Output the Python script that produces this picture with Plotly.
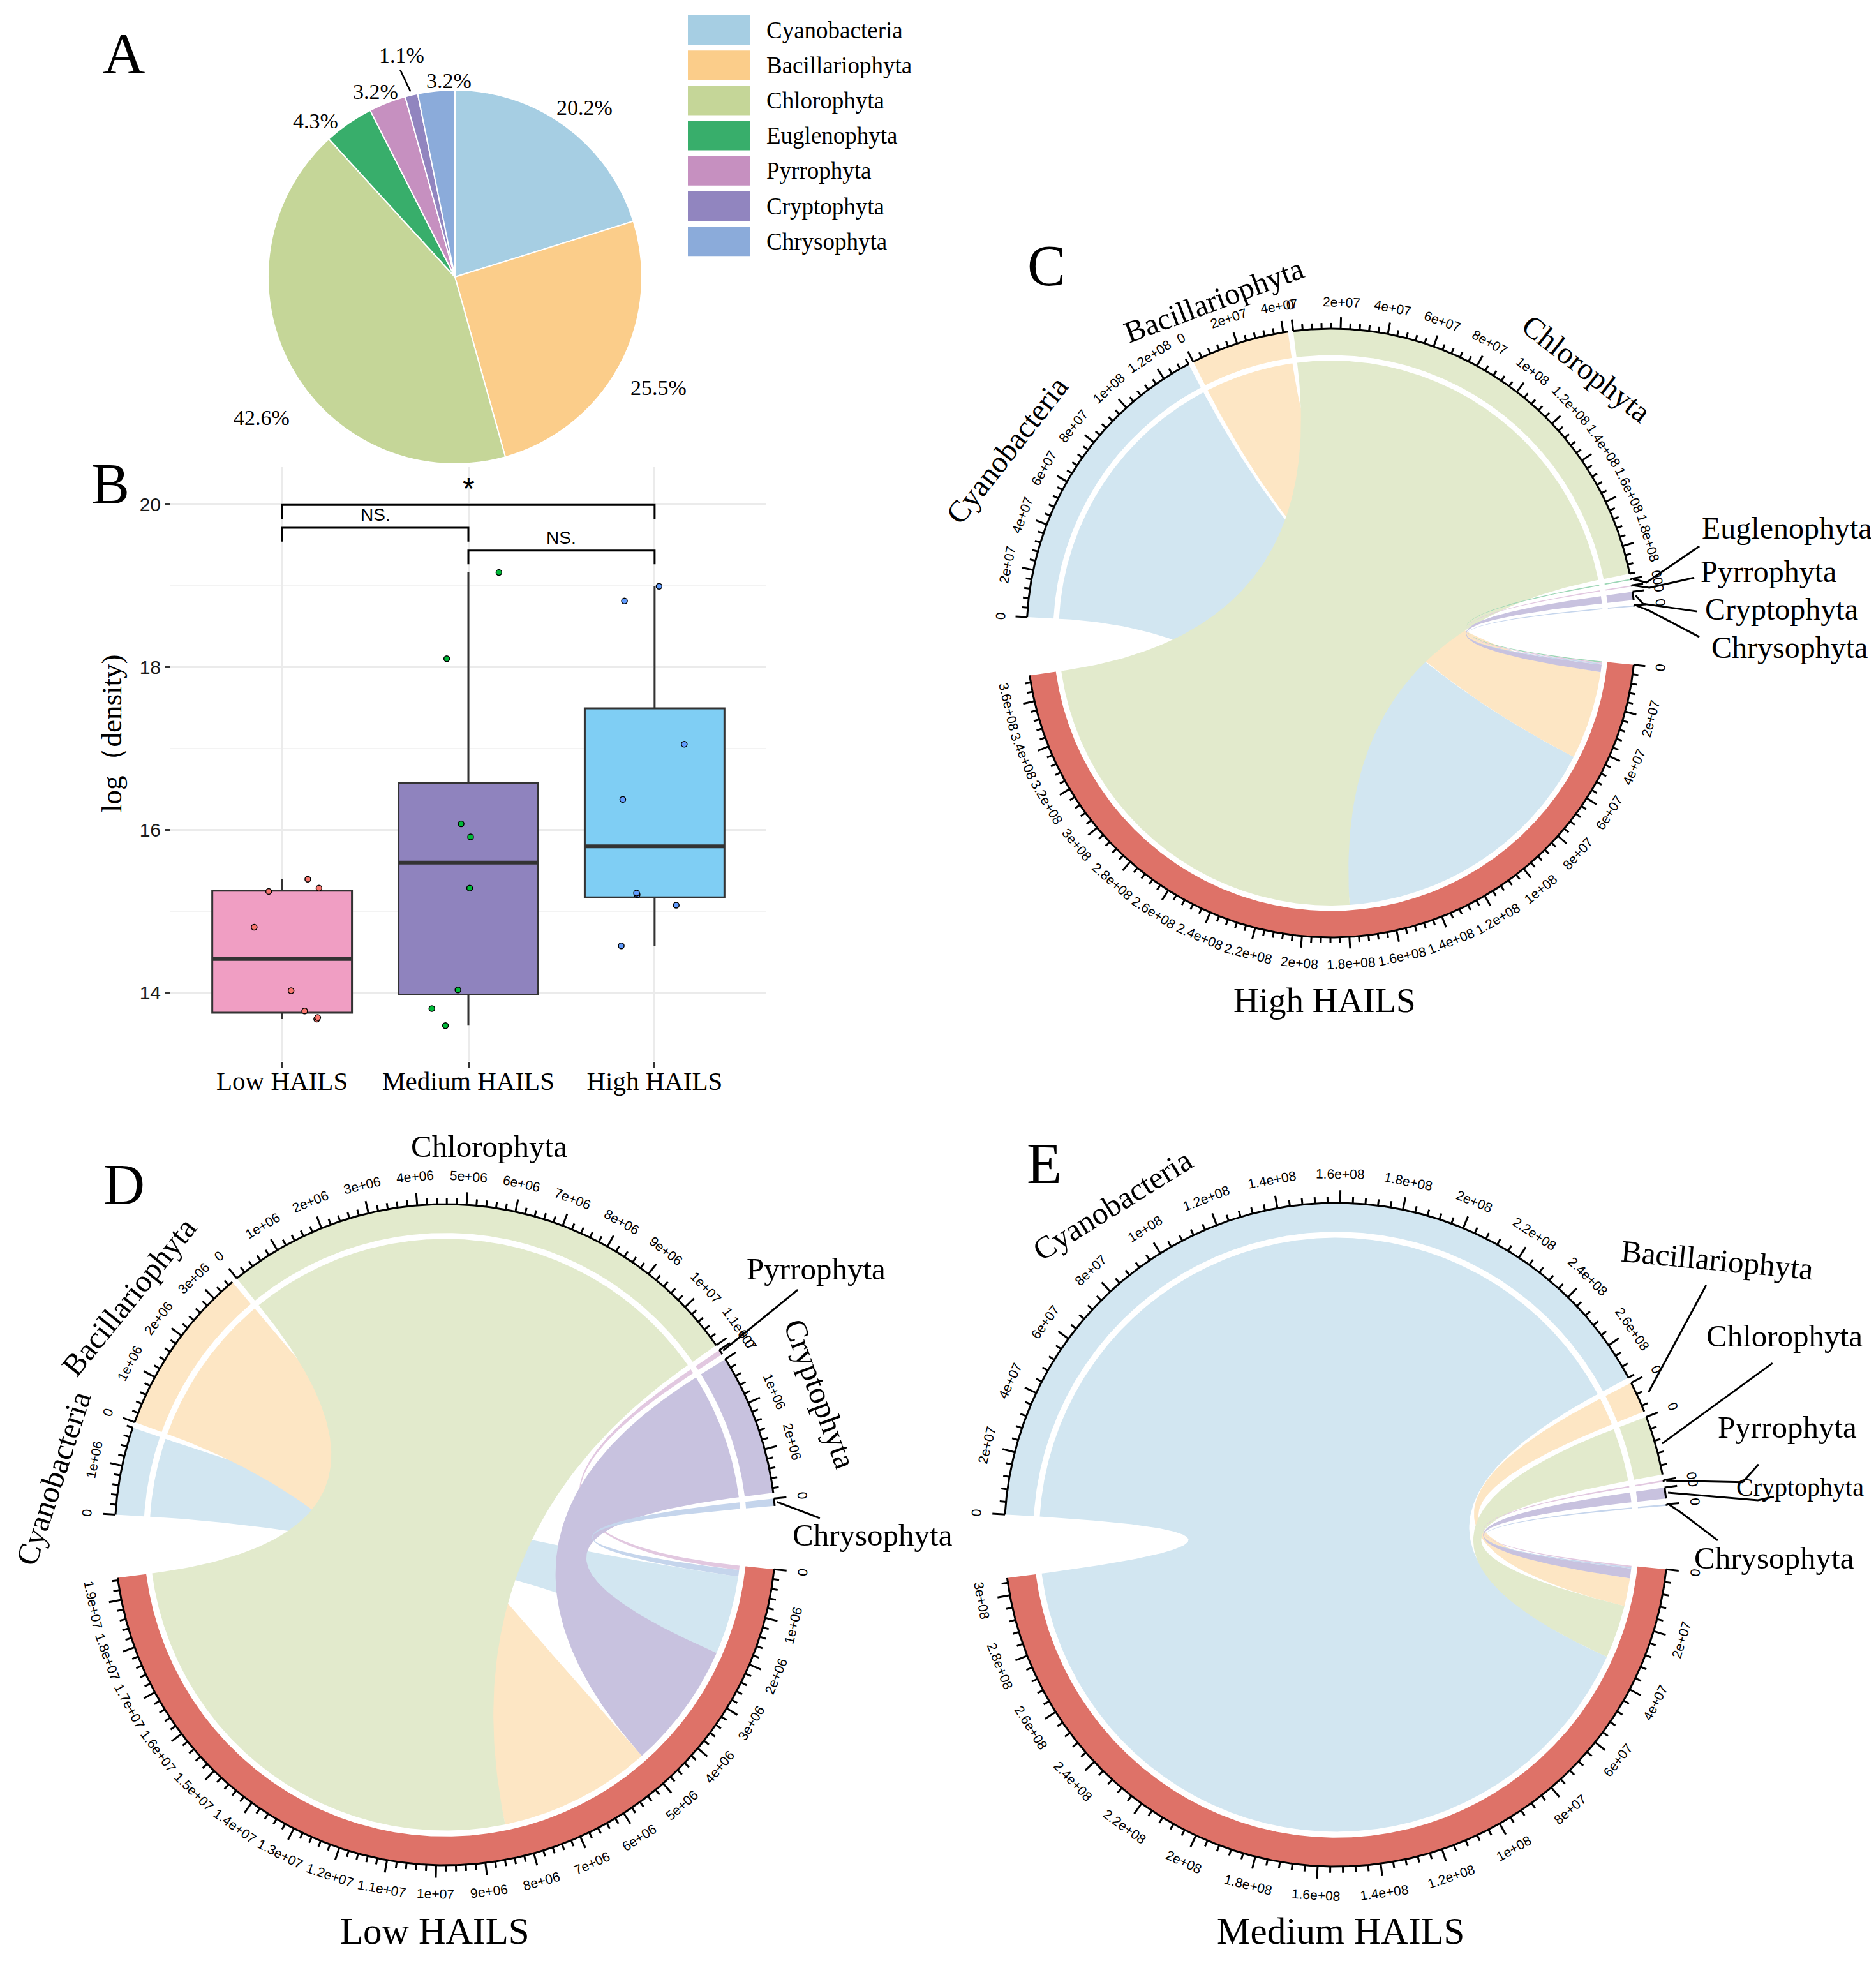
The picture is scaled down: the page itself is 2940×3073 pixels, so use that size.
import numpy as np
import plotly.graph_objects as go

W, H = 2940, 3073

# ---------------- data ----------------
phyla = ["Cyanobacteria", "Bacillariophyta", "Chlorophyta", "Euglenophyta",
         "Pyrrophyta", "Cryptophyta", "Chrysophyta"]
pie_percent = [20.2, 25.5, 42.6, 4.3, 3.2, 1.1, 3.2]

hails_groups = ["Low HAILS", "Medium HAILS", "High HAILS"]
log_density_low = [13.67, 13.69, 13.77, 14.02, 14.80, 15.24, 15.28, 15.39]
log_density_medium = [13.59, 13.80, 14.03, 15.28, 15.91, 16.07, 18.10, 19.16]
log_density_high = [14.57, 15.07, 15.20, 15.22, 16.37, 17.05, 18.81, 18.99]
jitter_low = [0.186, 0.191, 0.121, 0.048, -0.150, -0.072, 0.198, 0.138]
jitter_medium = [-0.123, -0.196, -0.056, 0.007, 0.012, -0.039, -0.116, 0.164]
jitter_high = [-0.179, 0.116, -0.094, -0.097, -0.171, 0.159, -0.162, 0.024]
comparisons = [("Low HAILS", "High HAILS", "*"),
               ("Low HAILS", "Medium HAILS", "NS."),
               ("Medium HAILS", "High HAILS", "NS.")]

# density of each phylum flowing into each HAILS group (chord diagrams)
flow_high = [1.32e8, 4.2e7, 1.92e8, 5e5, 5e5, 3.5e6, 5e5]
flow_low = [1.8e6, 3.5e6, 1.1e7, 0, 1e5, 2.9e6, 1.5e5]
flow_medium = [2.72e8, 1.0e7, 1.9e7, 0, 5e5, 3.5e6, 5e5]

# ---------------- styles ----------------
phyla_colors = ["#A6CEE3", "#FBCD8A", "#C5D698", "#38AE6B", "#C690C0", "#9185BF", "#8BABDA"]
box_fill = ["#F09EC3", "#8F83BE", "#7FCEF4"]
point_color = ["#F8766D", "#00BA38", "#619CFF"]
group_red = "#DE7268"
SERIF = "Liberation Serif"
SANS = "Liberation Sans"


def pale(hx, a=0.5):
    r, g, b = int(hx[1:3], 16), int(hx[3:5], 16), int(hx[5:7], 16)
    r, g, b = [int(round(c * a + 255 * (1 - a))) for c in (r, g, b)]
    return f"#{r:02X}{g:02X}{b:02X}"


fig = go.Figure()
annots = []
shapes = []


def text(x, y, s, size, family=SERIF, angle=0, xanchor="center", yanchor="middle", color="black"):
    annots.append(dict(x=x, y=y, xref="x2", yref="y2", text=s, showarrow=False,
                       font=dict(family=family, size=size, color=color), textangle=angle,
                       xanchor=xanchor, yanchor=yanchor))


def cline(xs, ys, color="black", width=3):
    fig.add_trace(go.Scatter(x=xs, y=ys, mode="lines", line=dict(color=color, width=width),
                             xaxis="x2", yaxis="y2", hoverinfo="skip", showlegend=False))


def cpoly(xs, ys, color):
    fig.add_trace(go.Scatter(x=xs, y=ys, mode="lines", fill="toself", fillcolor=color,
                             line=dict(width=0, color=color), xaxis="x2", yaxis="y2",
                             hoverinfo="skip", showlegend=False))


# ---------------- A: pie ----------------
pie_c = (705, 426)
pie_r = 293
fig.add_trace(go.Pie(values=pie_percent, labels=phyla, sort=False, direction="clockwise",
                     rotation=0, textinfo="none", hoverinfo="skip", showlegend=False,
                     marker=dict(colors=phyla_colors, line=dict(color="white", width=2)),
                     domain=dict(x=[(pie_c[0] - pie_r) / W, (pie_c[0] + pie_r) / W],
                                 y=[1 - (pie_c[1] + pie_r) / H, 1 - (pie_c[1] - pie_r) / H])))
pie_label_k = [1.14, 1.24, 1.28, 1.12, 1.08, 1.22, 1.05]
pie_label_dang = [1, 0, -7, -7, -2, 0, 4]
pie_leader = [False, False, False, False, False, True, False]
tot = sum(pie_percent)
cum = np.cumsum(pie_percent)
for i, p in enumerate(pie_percent):
    mid = (cum[i] - p / 2) / tot * 360
    a = np.radians(mid + pie_label_dang[i])
    k = pie_label_k[i]
    text(pie_c[0] + pie_r * k * np.sin(a), pie_c[1] - pie_r * k * np.cos(a), f"{p}%", 34)
    if pie_leader[i]:
        am = np.radians(mid)
        cline([pie_c[0] + pie_r * 1.02 * np.sin(am), pie_c[0] + pie_r * 1.14 * np.sin(am) - 8],
              [pie_c[1] - pie_r * 1.02 * np.cos(am), pie_c[1] - pie_r * 1.14 * np.cos(am)], width=2.5)

# legend
leg_x0, leg_x1, leg_y0, leg_dy, leg_h = 1070, 1167, 39, 55.2, 46
for i, name in enumerate(phyla):
    yc = leg_y0 + i * leg_dy
    shapes.append(dict(type="rect", xref="x2", yref="y2", x0=leg_x0, x1=leg_x1,
                       y0=yc - leg_h / 2, y1=yc + leg_h / 2, fillcolor=phyla_colors[i],
                       line=dict(width=0)))
    text(1191, yc, name, 37, xanchor="left")

# ---------------- B: box plot ----------------
groups_data = [log_density_low, log_density_medium, log_density_high]
jitters = [jitter_low, jitter_medium, jitter_high]
for gi, d in enumerate(groups_data):
    arr = np.array(d)
    q1, med, q3 = np.percentile(arr, [25, 50, 75])
    iqr = q3 - q1
    lo = arr[arr >= q1 - 1.5 * iqr].min()
    hi = arr[arr <= q3 + 1.5 * iqr].max()
    fig.add_trace(go.Box(x=[gi], q1=[q1], median=[med], q3=[q3], lowerfence=[lo], upperfence=[hi],
                         width=0.75, fillcolor=box_fill[gi], line=dict(color="#333333", width=3),
                         whiskerwidth=0, boxpoints=False, hoverinfo="skip", showlegend=False))
    fig.add_trace(go.Scatter(x=[gi - 0.375, gi + 0.375], y=[med, med], mode="lines",
                             line=dict(color="#333333", width=6), hoverinfo="skip", showlegend=False))
    fig.add_trace(go.Scatter(x=[gi + j for j in jitters[gi]], y=d, mode="markers",
                             marker=dict(size=9, color=point_color[gi], line=dict(color="black", width=1.5)),
                             hoverinfo="skip", showlegend=False))

bracket_y = [19.99, 19.71, 19.43]
for (g1, g2, lab), by in zip(comparisons, bracket_y):
    i1, i2 = hails_groups.index(g1), hails_groups.index(g2)
    fig.add_trace(go.Scatter(x=[i1, i1, i2, i2], y=[by - 0.17, by, by, by - 0.17], mode="lines",
                             line=dict(color="black", width=3), hoverinfo="skip", showlegend=False))
    annots.append(dict(x=(i1 + i2) / 2, y=by + (0.2 if lab == "*" else 0.16), xref="x", yref="y",
                       text=lab, showarrow=False,
                       font=dict(family=SANS, size=48 if lab == "*" else 28, color="black")))

text(167, 1142, "log（density)", 45, angle=-90)

# ---------------- chord diagrams ----------------


def pt(cx, cy, r, th):
    t = np.radians(th)
    return cx + r * np.cos(t), cy - r * np.sin(t)


def arc(cx, cy, r, a1, a2):
    n = max(3, int(abs(a1 - a2) * 3) + 3)
    return pt(cx, cy, r, np.linspace(a1, a2, n))


def bez(cx, cy, r, a, b, n=90):
    x0, y0 = pt(cx, cy, r, a)
    x2, y2 = pt(cx, cy, r, b)
    t = np.linspace(0, 1, n)
    xs = (1 - t) ** 2 * x0 + 2 * (1 - t) * t * cx + t ** 2 * x2
    ys = (1 - t) ** 2 * y0 + 2 * (1 - t) * t * cy + t ** 2 * y2
    return xs, ys


def rfmt(v):
    if v == 0:
        return "0"
    m, e = f"{v:e}".split("e")
    m = m.rstrip("0").rstrip(".")
    return f"{m}e{e}"


def tick_angle(th):
    rot = th - 90
    while rot <= -90:
        rot += 180
    while rot > 90:
        rot -= 180
    return -rot


def draw_chord(vals, st):
    cx, cy, R = st["cx"], st["cy"], st["R"]
    G, g = 11, 1
    idx = [i for i, v in enumerate(vals) if v > 0]
    T = sum(vals[i] for i in idx)
    n = len(idx)
    d = (360 - 2 * G - (n - 1) * g) / 2
    dpu = d / T
    red_start = -G / 2 - 0.5
    red_end = red_start - d
    sectors = {}
    th = red_end - G
    for i in idx:
        sectors[i] = (th, th - vals[i] * dpu)
        th = th - vals[i] * dpu - g
    order = sorted(idx, key=lambda i: vals[i])
    red_seg = {}
    cur = red_start
    for i in order:
        red_seg[i] = (cur, cur - vals[i] * dpu)
        cur -= vals[i] * dpu

    r_in, r_link = 0.913 * R, 0.895 * R
    # tracks
    allsec = [(sectors[i][0], sectors[i][1], pale(phyla_colors[i]), vals[i]) for i in idx]
    allsec.append((red_start, red_end, group_red, T))
    for a1, a2, col, v in allsec:
        xo, yo = arc(cx, cy, R, a1, a2)
        xi, yi = arc(cx, cy, r_in, a2, a1)
        cpoly(list(xo) + list(xi), list(yo) + list(yi), col)
    # links (in phylum order)
    for i in idx:
        a1, a2 = sectors[i]
        b1, b2 = red_seg[i]
        xs, ys = [], []
        for seg in (arc(cx, cy, r_link, a1, a2), bez(cx, cy, r_link, a2, b1),
                    arc(cx, cy, r_link, b1, b2), bez(cx, cy, r_link, b2, a1)):
            xs += list(seg[0])
            ys += list(seg[1])
        cpoly(xs, ys, pale(phyla_colors[i]))
    # axes
    major = st["major"]
    minor = major / 5
    tx, ty = [], []
    for a1, a2, col, v in allsec:
        xa, ya = arc(cx, cy, R, a1, a2)
        cline(list(xa), list(ya), width=3)
        k = 0
        while k * minor <= v + 1e-6:
            val = k * minor
            tha = a1 - val * dpu
            L = 0.038 * R if k % 5 == 0 else 0.019 * R
            x0, y0 = pt(cx, cy, R, tha)
            x1, y1 = pt(cx, cy, R + L, tha)
            tx += [x0, x1, None]
            ty += [y0, y1, None]
            if k % 5 == 0:
                lx, ly = pt(cx, cy, R * 1.087, tha)
                text(lx, ly, rfmt(val), 21, family=SANS, angle=tick_angle(tha))
            k += 1
    cline(tx, ty, width=3)
    # sector names
    for i in idx:
        spec = st["names"][phyla[i]]
        px, py = cx + spec["pos"][0] * R, cy + spec["pos"][1] * R
        if "leader" in spec:
            mid = (sectors[i][0] + sectors[i][1]) / 2
            sx, sy = pt(cx, cy, R * spec.get("r0", 1.008), mid)
            lxs = [sx] + [cx + q[0] * R for q in spec["leader"]]
            lys = [sy] + [cy + q[1] * R for q in spec["leader"]]
            cline(lxs, lys, width=3)
        text(px, py, phyla[i], spec.get("size", st["name_size"]), angle=spec.get("angle", 0),
             xanchor=spec.get("xanchor", "center"))
    text(st["letter_xy"][0], st["letter_xy"][1], st["letter"], 90)
    text(st["title_xy"][0], st["title_xy"][1], st["title"], st["title_size"])


chord_styles = {
    "High HAILS": dict(
        cx=2078, cy=984, R=477, major=2e7, letter="C", letter_xy=(1632, 408),
        title="High HAILS", title_xy=(2068, 1559), title_size=55, name_size=48,
        names={
            "Cyanobacteria": dict(pos=(-1.065, -0.60), angle=-52),
            "Bacillariophyta": dict(pos=(-0.386, -1.094), angle=-20.6),
            "Chlorophyta": dict(pos=(0.839, -0.868), angle=38),
            "Euglenophyta": dict(pos=(1.214, -0.344), xanchor="left",
                                 leader=[(1.036, -0.166), (1.21, -0.285)]),
            "Pyrrophyta": dict(pos=(1.21, -0.203), xanchor="left",
                               leader=[(1.046, -0.149), (1.193, -0.182)]),
            "Cryptophyta": dict(pos=(1.224, -0.078), xanchor="left",
                                leader=[(1.025, -0.096), (1.203, -0.071)]),
            "Chrysophyta": dict(pos=(1.245, 0.048), xanchor="left",
                                leader=[(1.046, -0.073), (1.21, 0.013)]),
        }),
    "Low HAILS": dict(
        cx=690, cy=2397, R=518, major=1e6, letter="D", letter_xy=(186, 1848),
        title="Low HAILS", title_xy=(673, 3018), title_size=59, name_size=49,
        names={
            "Cyanobacteria": dict(pos=(-1.185, -0.170), angle=-72),
            "Bacillariophyta": dict(pos=(-0.958, -0.720), angle=-51),
            "Chlorophyta": dict(pos=(0.133, -1.174), angle=0),
            "Pyrrophyta": dict(pos=(0.907, -0.805), xanchor="left", leader=[(1.066, -0.741)]),
            "Cryptophyta": dict(pos=(1.133, -0.425), angle=70),
            "Chrysophyta": dict(pos=(1.046, 0.0), xanchor="left", leader=[(1.133, -0.050)]),
        }),
    "Medium HAILS": dict(
        cx=2086, cy=2397, R=520, major=2e7, letter="E", letter_xy=(1628, 1815),
        title="Medium HAILS", title_xy=(2093, 3018), title_size=59, name_size=49,
        names={
            "Cyanobacteria": dict(pos=(-0.675, -0.994), angle=-32),
            "Bacillariophyta": dict(pos=(1.148, -0.827), angle=5.5, r0=1.035,
                                    leader=[(1.115, -0.752)]),
            "Chlorophyta": dict(pos=(1.35, -0.60), r0=1.02, leader=[(1.315, -0.517)]),
            "Pyrrophyta": dict(pos=(1.36, -0.325),
                               leader=[(1.225, -0.158), (1.273, -0.212)]),
            "Cryptophyta": dict(pos=(1.398, -0.144), size=40,
                                leader=[(1.271, -0.104), (1.319, -0.115)]),
            "Chrysophyta": dict(pos=(1.075, 0.071), xanchor="left",
                                leader=[(1.042, -0.065), (1.15, 0.017)]),
        }),
}

draw_chord(flow_high, chord_styles["High HAILS"])
draw_chord(flow_low, chord_styles["Low HAILS"])
draw_chord(flow_medium, chord_styles["Medium HAILS"])

# panel letters A, B
text(186, 76, "A", 92)
text(165, 750, "B", 90)

# ---------------- layout ----------------
box_px = (259, 1193)
box_py = (724, 1655)
fig.update_layout(
    width=W, height=H, margin=dict(l=0, r=0, t=0, b=0),
    paper_bgcolor="white", plot_bgcolor="rgba(0,0,0,0)", showlegend=False,
    font=dict(family=SERIF, color="black"),
    xaxis=dict(domain=[box_px[0] / W, box_px[1] / W], range=[-0.6, 2.6], anchor="y",
               tickvals=[0, 1, 2], ticktext=hails_groups, showgrid=True, gridcolor="#EBEBEB",
               gridwidth=2.5, zeroline=False, showline=False, ticks="outside", ticklen=9,
               tickwidth=2.5, tickcolor="#333333", ticklabelstandoff=-14,
               tickfont=dict(family=SERIF, size=41, color="black")),
    yaxis=dict(domain=[1 - box_py[1] / H, 1 - box_py[0] / H], range=[13.153, 20.455], anchor="x",
               tickvals=[14, 16, 18, 20], showgrid=True, gridcolor="#EBEBEB", gridwidth=2.5,
               zeroline=False, showline=False, ticks="outside", ticklen=8, tickwidth=2.5,
               tickcolor="#333333", tickfont=dict(family=SANS, size=30, color="#1A1A1A"),
               minor=dict(tickvals=[15, 17, 19], showgrid=True, gridcolor="#F3F3F3",
                          gridwidth=2, ticks="")),
    xaxis2=dict(domain=[0, 1], range=[0, W], anchor="y2", visible=False),
    yaxis2=dict(domain=[0, 1], range=[H, 0], anchor="x2", visible=False),
    annotations=annots, shapes=shapes,
)

fig.write_html("out.html")
